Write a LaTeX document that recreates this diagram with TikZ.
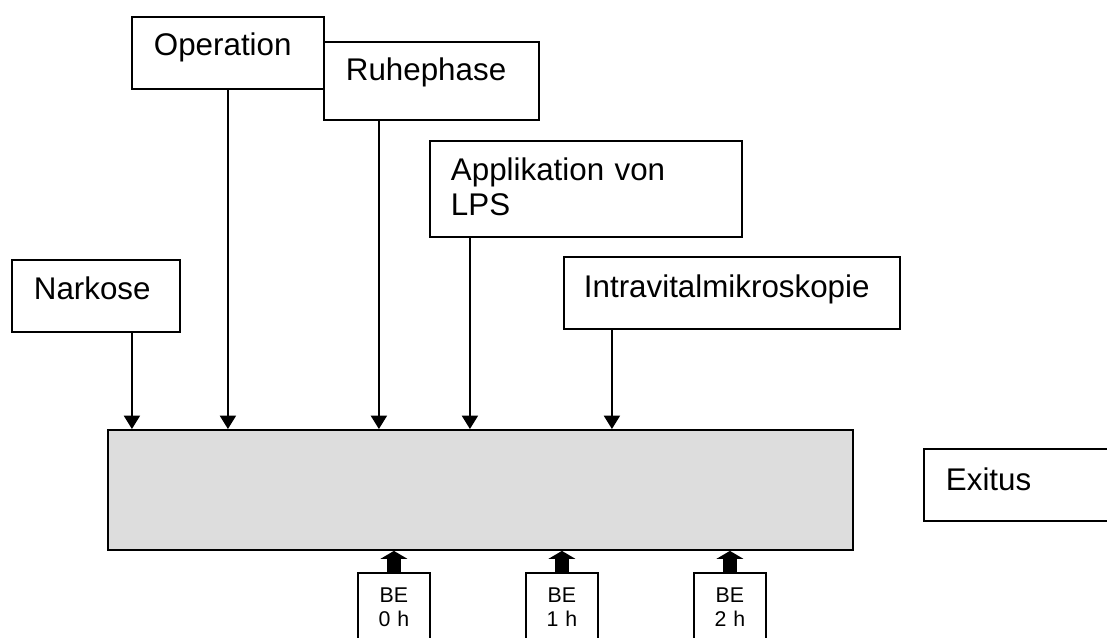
\documentclass[tikz,border=0pt]{standalone}
\usepackage{fontspec}
\setmainfont{Liberation Sans}
\usetikzlibrary{arrows.meta}
\hyphenpenalty=10000
\definecolor{balken}{HTML}{DDDDDD}
\tikzset{
	kasten/.style={draw, line width=1.4pt, fill=white, anchor=north west, align=left, inner ysep=0pt, inner xsep=16.5pt, font=\fontsize{23.5}{26}\selectfont},
	probe/.style={draw, line width=1.4pt, fill=white, anchor=north west, align=center, inner sep=0pt, text width=54pt, text height=22.5pt, text depth=67.5pt, font=\fontsize{16}{17.5}\selectfont},
	pfeil/.style={line width=1.3pt, -{Triangle[width=12pt,length=10pt]}},
	dick/.style={line width=10pt, -{Triangle[width=20pt,length=6pt]}}
}

\begin{document}
\begin{tikzpicture}[x=0.75pt, y=-0.75pt]
					\clip (0,0) rectangle (1107,637);
					\node (narkose)   at (11,259)  [kasten, text width=93pt, text height=30pt, text depth=24pt] {Narkose};
					\node (operation) at (131,16)  [kasten, text width=111pt, text height=29.25pt, text depth=24.75pt] {Operation};
					\node (ruhe)      at (323,41)  [kasten, text width=128.25pt, text height=29.25pt, text depth=29.25pt] {Ruhephase};
					\node (lps)       at (429,140) [kasten, inner xsep=15.75pt, text width=202.5pt, text height=30pt, text depth=42pt] {Applikation von\\LPS};
					\node (ivm)       at (563,256) [kasten, inner xsep=15pt, text width=222pt, text height=30.75pt, text depth=23.25pt] {Intravitalmikroskopie};
					\node (exitus)    at (923,448) [kasten, text width=117pt, text height=31.5pt, text depth=22.5pt] {Exitus};
					\node (zeit)      at (107,429) [draw, line width=1.4pt, fill=balken, anchor=north west, inner sep=0pt, minimum width=558.75pt, minimum height=90pt] {};

					\node (be0) at (357,572) [probe] {BE\\0 h};
					\node (be1) at (525,572) [probe] {BE\\1 h};
					\node (be2) at (693,572) [probe] {BE\\2 h};

					% Pfeile auf den Versuchsablauf
					\draw[pfeil] ([xshift=27pt]narkose.south) -- ([xshift=27pt]narkose.south |- zeit.north);
					\draw[pfeil] (operation.south) -- (operation.south |- zeit.north);
					\draw[pfeil] ([xshift=-39.4pt]ruhe.south) -- ([xshift=-39.4pt]ruhe.south |- zeit.north);
					\draw[pfeil] ([xshift=-87pt]lps.south) -- ([xshift=-87pt]lps.south |- zeit.north);
					\draw[pfeil] ([xshift=-90pt]ivm.south) -- ([xshift=-90pt]ivm.south |- zeit.north);
					\draw[dick] (be0.north) -- (be0.north |- zeit.south);
					\draw[dick] (be1.north) -- (be1.north |- zeit.south);
					\draw[dick] (be2.north) -- (be2.north |- zeit.south);
				\end{tikzpicture}
\end{document}
